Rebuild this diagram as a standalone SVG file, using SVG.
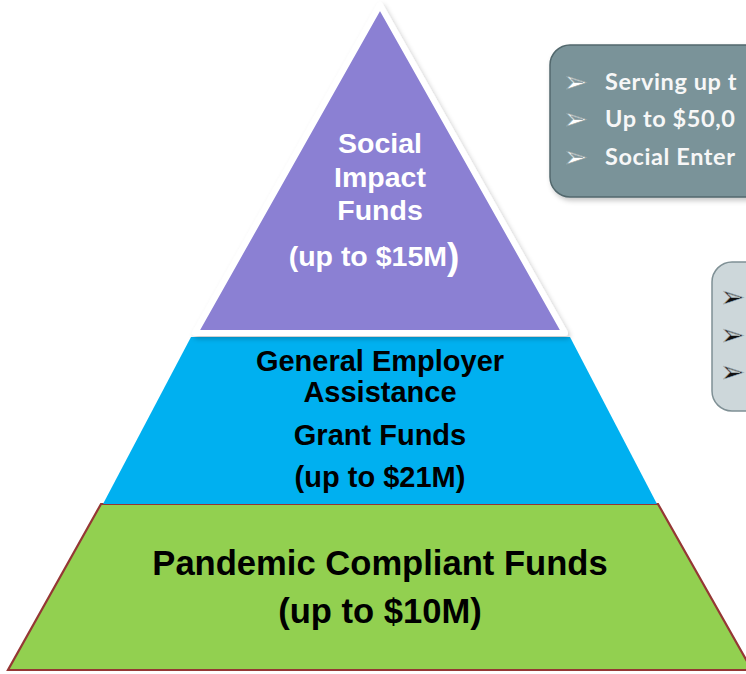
<svg xmlns="http://www.w3.org/2000/svg" width="746" height="674" viewBox="0 0 746 674">
  <defs>
    <filter id="soft" x="-10%" y="-10%" width="120%" height="120%">
      <feDropShadow dx="2" dy="3" stdDeviation="2.5" flood-color="#000" flood-opacity="0.22"/>
    </filter>
    <style>
      .lbl { font-family: "Liberation Sans", Arial, sans-serif; font-weight: bold; text-anchor: middle; }
      .white { fill: #ffffff; }
      .black { fill: #000000; }
      .note { font-family: Lato, "Open Sans", sans-serif; font-weight: bold; font-size: 23.5px; letter-spacing: 0.6px; fill: #f7f7f7; }
      .bullet { font-family: "DejaVu Sans", sans-serif; font-size: 30px; }
    </style>
  </defs>

  <rect width="746" height="674" fill="#ffffff"/>

  <!-- bottom tier -->
  <g id="tier-pandemic">
    <polygon points="101,504 658,504 752,670 8,670" fill="#92d050" stroke="#953735" stroke-width="2.2" stroke-linejoin="miter"/>
    <text class="lbl black" x="380" y="575" font-size="34.6">Pandemic Compliant Funds</text>
    <text class="lbl black" x="380" y="623" font-size="34.6">(up to $10M)</text>
  </g>

  <!-- middle tier -->
  <g id="tier-general">
    <polygon points="191,337 570,337 657,504 103,504" fill="#00b0f0"/>
    <text class="lbl black" x="380" y="371" font-size="29">General Employer</text>
    <text class="lbl black" x="380" y="402" font-size="29">Assistance</text>
    <text class="lbl black" x="380" y="445" font-size="29">Grant Funds</text>
    <text class="lbl black" x="380" y="487" font-size="29">(up to $21M)</text>
  </g>

  <!-- top tier -->
  <g id="tier-social">
    <polygon points="380,5 195,333 565,333" fill="#8b80d3" stroke="#ffffff" stroke-width="6" stroke-linejoin="round" filter="url(#soft)"/>
    <text class="lbl white" x="380" y="153" font-size="28.5">Social</text>
    <text class="lbl white" x="380" y="187" font-size="28.5">Impact</text>
    <text class="lbl white" x="380" y="220" font-size="28.5">Funds</text>
    <text class="lbl white" x="374" y="266" font-size="28.5">(up to $15M<tspan font-size="37" dy="3">)</tspan></text>
  </g>

  <!-- callout for the top tier -->
  <g id="note-social">
    <rect x="550" y="45" width="230" height="152" rx="20" ry="20" fill="#7a9399" stroke="#52686d" stroke-width="1.5" filter="url(#soft)"/>
    <text class="bullet" x="563" y="92" fill="#ffffff" stroke="#8d9ea2" stroke-width="0.6">➢</text>
    <text class="bullet" x="563" y="129" fill="#ffffff" stroke="#8d9ea2" stroke-width="0.6">➢</text>
    <text class="bullet" x="563" y="167" fill="#ffffff" stroke="#8d9ea2" stroke-width="0.6">➢</text>
    <text class="note" x="605" y="90">Serving up t</text>
    <text class="note" x="605" y="127">Up to $50,0</text>
    <text class="note" x="605" y="165">Social Enter</text>
  </g>

  <!-- callout for the middle tier -->
  <g id="note-general">
    <rect x="712" y="262" width="80" height="149" rx="20" ry="20" fill="#cdd7da" stroke="#7f9095" stroke-width="1.5"/>
    <text class="bullet" x="720" y="307" fill="#111111" stroke="#a9b3b6" stroke-width="0.6">➢</text>
    <text class="bullet" x="720" y="345" fill="#111111" stroke="#a9b3b6" stroke-width="0.6">➢</text>
    <text class="bullet" x="720" y="382" fill="#111111" stroke="#a9b3b6" stroke-width="0.6">➢</text>
  </g>
</svg>
